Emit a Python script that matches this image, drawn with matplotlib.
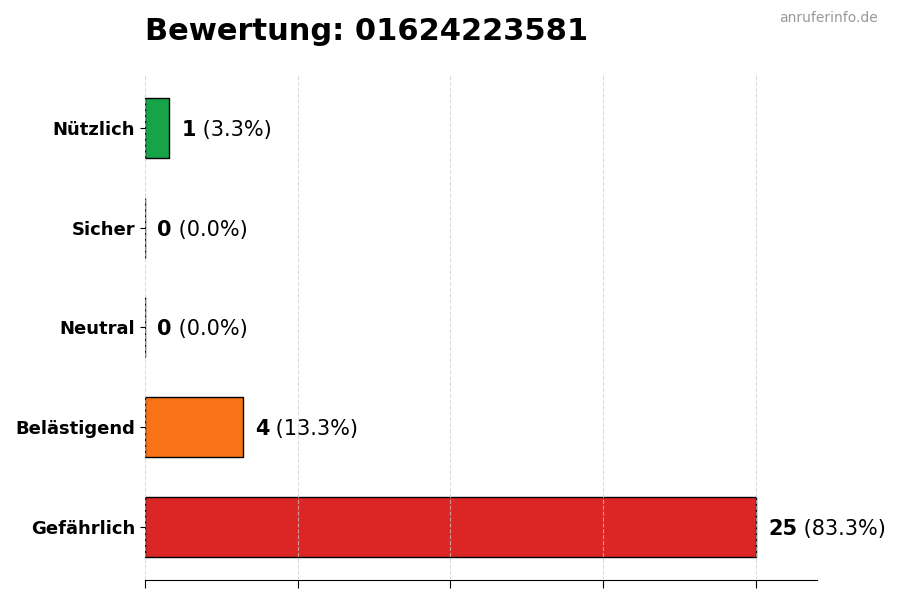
import numpy as np
import matplotlib.pyplot as plt

categories = ["Gefährlich", "Belästigend", "Neutral", "Sicher", "Nützlich"]
counts = [25, 4, 0, 0, 1]
colors = ["#dc2626", "#f97316", "#6b7280", "#3b82f6", "#16a34a"]
title = "Bewertung: 01624223581"
watermark = "anruferinfo.de"

total = sum(counts)
max_val = max(counts)

fig = plt.figure(figsize=(9, 6), dpi=100)
ax = fig.add_axes([0.161, 0.0333, 0.747, 0.842])

y = np.arange(len(categories))
ax.barh(y, counts, height=0.6, color=colors, edgecolor="black", linewidth=1, zorder=1)

ax.set_yticks(y)
ax.set_yticklabels(categories, fontsize=13, fontweight="bold")
ax.set_xlim(0, max_val * 1.1)
ax.set_xticks(np.linspace(0, max_val, 5))
ax.set_xticklabels([])
ax.tick_params(axis="x", length=6)
ax.grid(axis="x", linestyle="--", color="#cccccc", alpha=0.7, linewidth=0.8, zorder=2)
ax.set_axisbelow(False)

for side in ("top", "right", "left"):
    ax.spines[side].set_visible(False)

# bold count followed by the percentage in normal weight
for yi, c in zip(y, counts):
    pct = c / total * 100
    t = ax.text(c + max_val * 0.02, yi, f"{c}", fontsize=15, fontweight="bold",
                va="center_baseline", ha="left")
    ax.annotate(f" ({pct:.1f}%)", xy=(1, 0), xycoords=t, fontsize=15,
                va="bottom", ha="left")

fig.text(0.161, 0.947, title, fontsize=22, fontweight="bold", ha="left", va="center")
fig.text(0.975, 0.97, watermark, fontsize=10, color="#999999", ha="right", va="center")

fig.savefig("out.png", dpi=100)
